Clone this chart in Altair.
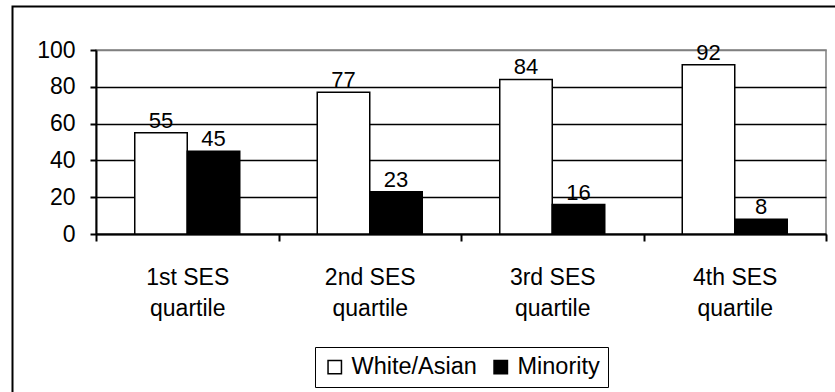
import altair as alt
import pandas as pd

categories = ["1st SES quartile", "2nd SES quartile", "3rd SES quartile", "4th SES quartile"]
series = ["White/Asian", "Minority"]
white_asian = [55, 77, 84, 92]
minority = [45, 23, 16, 8]
y_ticks = [0, 20, 40, 60, 80, 100]

rows = []
for c, w, m in zip(categories, white_asian, minority):
    rows.append({"cat": c, "group": series[0], "value": w})
    rows.append({"cat": c, "group": series[1], "value": m})
df = pd.DataFrame(rows)

FONT = "Liberation Sans"

x_enc = alt.X(
    "cat:N",
    sort=categories,
    title=None,
    scale=alt.Scale(paddingInner=0, paddingOuter=0),
    axis=alt.Axis(
        tickBand="extent",
        labelAngle=0,
        labelExpr="[slice(datum.label, 0, 7), slice(datum.label, 8)]",
        labelFont=FONT,
        labelFontSize=23,
        labelColor="black",
        labelLineHeight=31,
        labelPadding=25,
        tickSize=7,
        tickWidth=2,
        tickColor="black",
        domainColor="black",
        domainWidth=2,
        grid=False,
    ),
)
xoff = alt.XOffset("group:N", sort=series, scale=alt.Scale(paddingInner=0, paddingOuter=0.738))
y_enc = alt.Y(
    "value:Q",
    title=None,
    scale=alt.Scale(domain=[0, 100], nice=False),
    axis=alt.Axis(
        values=y_ticks,
        labelOverlap=False,
        labelFont=FONT,
        labelFontSize=23,
        labelColor="black",
        labelPadding=15,
        tickSize=6,
        tickWidth=2,
        tickColor="black",
        domainColor="black",
        domainWidth=2,
        grid=True,
        gridColor={"condition": {"test": "datum.value >= 100", "value": "#808080"}, "value": "black"},
        gridWidth=1.3,
    ),
)

base = alt.Chart(df)

bars = base.mark_bar(stroke="black", strokeWidth=1.5).encode(
    x=x_enc,
    xOffset=xoff,
    y=y_enc,
    fill=alt.Fill(
        "group:N",
        sort=series,
        scale=alt.Scale(domain=series, range=["white", "black"]),
        legend=alt.Legend(
            title=None,
            orient="none",
            legendX=219,
            legendY=297,
            direction="horizontal",
            symbolType="square",
            symbolSize=180,
            symbolStrokeColor="black",
            symbolStrokeWidth=1.5,
            labelFont=FONT,
            labelFontSize=23.5,
            labelColor="black",
            labelOffset=5,
            columnPadding=12,
            padding=8,
            strokeColor="black",
        ),
    ),
)

labels = base.mark_text(font=FONT, fontSize=22, color="black", baseline="alphabetic", dy=-5).encode(
    x=x_enc,
    xOffset=xoff,
    y=y_enc,
    text=alt.Text("value:Q"),
)

frame = alt.Chart(pd.DataFrame({"a": [0]})).mark_rect(
    fill=None, filled=False, stroke="black", strokeWidth=2
).encode(
    x=alt.value(-83.5), x2=alt.value(760), y=alt.value(-43.5), y2=alt.value(360)
)

chart = alt.layer(bars, labels, frame).properties(
    width=730,
    height=184,
    autosize=alt.AutoSizeParams(type="none"),
    padding={"left": 96, "top": 50, "right": 9, "bottom": 158},
    background="white",
).configure_view(stroke="#808080", strokeWidth=1.5)

chart.save("out.html", embed_options={"renderer": "svg", "actions": False})
